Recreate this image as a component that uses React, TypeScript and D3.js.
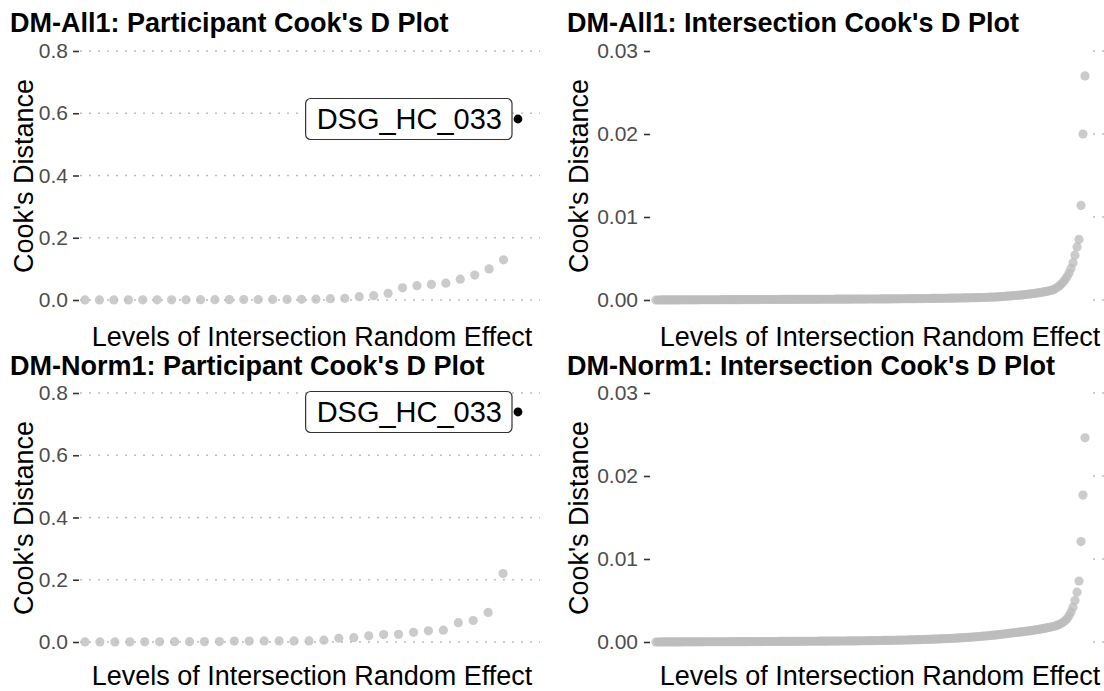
import * as d3 from 'd3';
import React, { useEffect, useRef } from 'react';

// Participant-level Cook's D, sorted ascending (last value = flagged participant)
const allParticipantCooks = [
  0.0001, 0.0002, 0.0003, 0.0004, 0.0005, 0.0006, 0.0007, 0.0008, 0.0009, 0.0011,
  0.0012, 0.0014, 0.0016, 0.0018, 0.0020, 0.0022, 0.0025, 0.0043, 0.0054, 0.0107,
  0.0140, 0.0214, 0.0390, 0.0460, 0.0500, 0.0540, 0.0670, 0.0800, 0.1000, 0.1290,
  0.5815,
];
const normParticipantCooks = [
  0.0001, 0.0002, 0.0003, 0.0004, 0.0005, 0.0006, 0.0010, 0.0011, 0.0012, 0.0013,
  0.0030, 0.0031, 0.0033, 0.0034, 0.0035, 0.0036, 0.0060, 0.0120, 0.0140, 0.0200,
  0.0240, 0.0245, 0.0310, 0.0360, 0.0380, 0.0620, 0.0690, 0.0950, 0.2200, 0.7390,
];
const flaggedParticipant = "DSG_HC_033";

// Intersection-level Cook's D, sorted ascending
const allIntersectionCooks = [
  0.00000, 0.00000, 0.00000, 0.00001, 0.00001, 0.00001, 0.00001, 0.00001, 0.00001, 0.00001,
  0.00001, 0.00001, 0.00002, 0.00002, 0.00002, 0.00002, 0.00002, 0.00002, 0.00002, 0.00002,
  0.00002, 0.00002, 0.00003, 0.00003, 0.00003, 0.00003, 0.00003, 0.00003, 0.00003, 0.00003,
  0.00003, 0.00003, 0.00003, 0.00004, 0.00004, 0.00004, 0.00004, 0.00004, 0.00004, 0.00004,
  0.00004, 0.00004, 0.00004, 0.00005, 0.00005, 0.00005, 0.00005, 0.00005, 0.00005, 0.00005,
  0.00005, 0.00005, 0.00005, 0.00006, 0.00006, 0.00006, 0.00006, 0.00006, 0.00006, 0.00006,
  0.00006, 0.00006, 0.00006, 0.00007, 0.00007, 0.00007, 0.00007, 0.00007, 0.00007, 0.00007,
  0.00007, 0.00007, 0.00007, 0.00008, 0.00008, 0.00008, 0.00008, 0.00008, 0.00008, 0.00008,
  0.00008, 0.00008, 0.00009, 0.00009, 0.00009, 0.00009, 0.00009, 0.00009, 0.00009, 0.00009,
  0.00010, 0.00010, 0.00010, 0.00010, 0.00010, 0.00010, 0.00010, 0.00010, 0.00011, 0.00011,
  0.00011, 0.00011, 0.00011, 0.00011, 0.00011, 0.00011, 0.00012, 0.00012, 0.00012, 0.00012,
  0.00012, 0.00012, 0.00012, 0.00013, 0.00013, 0.00013, 0.00013, 0.00013, 0.00014, 0.00014,
  0.00014, 0.00014, 0.00014, 0.00015, 0.00015, 0.00015, 0.00015, 0.00016, 0.00016, 0.00016,
  0.00016, 0.00017, 0.00017, 0.00017, 0.00017, 0.00018, 0.00018, 0.00018, 0.00019, 0.00019,
  0.00019, 0.00020, 0.00020, 0.00020, 0.00021, 0.00021, 0.00021, 0.00022, 0.00022, 0.00022,
  0.00023, 0.00023, 0.00024, 0.00024, 0.00025, 0.00025, 0.00026, 0.00026, 0.00027, 0.00027,
  0.00028, 0.00028, 0.00029, 0.00030, 0.00030, 0.00031, 0.00032, 0.00033, 0.00034, 0.00035,
  0.00036, 0.00037, 0.00039, 0.00040, 0.00042, 0.00044, 0.00046, 0.00048, 0.00050, 0.00052,
  0.00054, 0.00056, 0.00058, 0.00060, 0.00062, 0.00065, 0.00068, 0.00071, 0.00074, 0.00077,
  0.00080, 0.00084, 0.00088, 0.00092, 0.00096, 0.00100, 0.00105, 0.00110, 0.00116, 0.00122,
  0.00135, 0.00150, 0.00168, 0.00190, 0.00215, 0.00245, 0.00280, 0.00325, 0.00380, 0.00450,
  0.00540, 0.00640, 0.00730, 0.01140, 0.02000, 0.02700,
];
const normIntersectionCooks = [
  0.00000, 0.00000, 0.00000, 0.00001, 0.00001, 0.00001, 0.00001, 0.00001, 0.00001, 0.00001,
  0.00001, 0.00001, 0.00001, 0.00001, 0.00002, 0.00002, 0.00002, 0.00002, 0.00002, 0.00002,
  0.00002, 0.00002, 0.00002, 0.00002, 0.00003, 0.00003, 0.00003, 0.00003, 0.00003, 0.00003,
  0.00003, 0.00003, 0.00003, 0.00003, 0.00003, 0.00003, 0.00003, 0.00004, 0.00004, 0.00004,
  0.00004, 0.00004, 0.00004, 0.00004, 0.00004, 0.00004, 0.00005, 0.00005, 0.00005, 0.00005,
  0.00005, 0.00005, 0.00005, 0.00005, 0.00006, 0.00006, 0.00006, 0.00006, 0.00006, 0.00006,
  0.00006, 0.00006, 0.00007, 0.00007, 0.00007, 0.00007, 0.00007, 0.00007, 0.00007, 0.00008,
  0.00008, 0.00008, 0.00008, 0.00008, 0.00008, 0.00008, 0.00009, 0.00009, 0.00009, 0.00009,
  0.00009, 0.00009, 0.00010, 0.00010, 0.00010, 0.00010, 0.00010, 0.00011, 0.00011, 0.00011,
  0.00011, 0.00011, 0.00012, 0.00012, 0.00012, 0.00012, 0.00013, 0.00013, 0.00013, 0.00013,
  0.00014, 0.00014, 0.00014, 0.00015, 0.00015, 0.00015, 0.00016, 0.00016, 0.00016, 0.00017,
  0.00017, 0.00017, 0.00018, 0.00018, 0.00019, 0.00019, 0.00019, 0.00020, 0.00020, 0.00021,
  0.00021, 0.00022, 0.00022, 0.00023, 0.00023, 0.00024, 0.00024, 0.00025, 0.00026, 0.00026,
  0.00027, 0.00028, 0.00028, 0.00029, 0.00030, 0.00031, 0.00031, 0.00032, 0.00033, 0.00034,
  0.00035, 0.00036, 0.00037, 0.00038, 0.00039, 0.00040, 0.00041, 0.00042, 0.00043, 0.00045,
  0.00046, 0.00047, 0.00049, 0.00050, 0.00052, 0.00053, 0.00055, 0.00057, 0.00058, 0.00060,
  0.00062, 0.00064, 0.00066, 0.00068, 0.00070, 0.00072, 0.00074, 0.00077, 0.00079, 0.00082,
  0.00084, 0.00087, 0.00090, 0.00092, 0.00095, 0.00098, 0.00101, 0.00104, 0.00107, 0.00110,
  0.00113, 0.00116, 0.00119, 0.00122, 0.00125, 0.00128, 0.00131, 0.00134, 0.00138, 0.00141,
  0.00145, 0.00149, 0.00153, 0.00157, 0.00161, 0.00166, 0.00171, 0.00176, 0.00181, 0.00187,
  0.00193, 0.00201, 0.00210, 0.00222, 0.00237, 0.00255, 0.00280, 0.00315, 0.00360, 0.00420,
  0.00500, 0.00600, 0.00735, 0.01210, 0.01770, 0.02460,
];

const participantTicks = [0, 0.2, 0.4, 0.6, 0.8];
const intersectionTicks = [0, 0.01, 0.02, 0.03];
const panelTitles = [
  "DM-All1: Participant Cook's D Plot",
  "DM-All1: Intersection Cook's D Plot",
  "DM-Norm1: Participant Cook's D Plot",
  "DM-Norm1: Intersection Cook's D Plot",
];
const xAxisTitle = "Levels of Intersection Random Effect";
const yAxisTitle = "Cook's Distance";

const FONT = "'Liberation Sans', Arial, Helvetica, sans-serif";

// column layout (left = participant, right = intersection)
const columns = [
  { titleX: 10, yTitleX: 33, axisX: 79, pad: 5, xRange: [85, 518], gridX: [80, 540], xTitleX: 312 },
  { titleX: 567, yTitleX: 588, axisX: 650, pad: 6, xRange: [656, 1085], gridX: [1093, 1104], xTitleX: 880 },
];
const rows = [
  { zeroY: 300, topY: 51, titleY: 32, xTitleY: 346, yTitleY: 176 },
  { zeroY: 642, topY: 393, titleY: 375, xTitleY: 685, yTitleY: 518 },
];

const panels = [
  { title: panelTitles[0], values: allParticipantCooks, ticks: participantTicks, fmt: ".1f", col: 0, row: 0, flag: true },
  { title: panelTitles[1], values: allIntersectionCooks, ticks: intersectionTicks, fmt: ".2f", col: 1, row: 0, flag: false },
  { title: panelTitles[2], values: normParticipantCooks, ticks: participantTicks, fmt: ".1f", col: 0, row: 1, flag: true },
  { title: panelTitles[3], values: normIntersectionCooks, ticks: intersectionTicks, fmt: ".2f", col: 1, row: 1, flag: false },
];

const App: React.FC = () => {
  const ref = useRef<SVGSVGElement>(null);

  useEffect(() => {
    if (!ref.current) return;
    const svg = d3.select(ref.current);
    svg.selectAll("*").remove();

    panels.forEach(p => {
      const c = columns[p.col];
      const r = rows[p.row];
      const g = svg.append("g");

      const x = d3.scalePoint<number>()
        .domain(d3.range(p.values.length))
        .range(c.xRange as [number, number]);
      const y = d3.scaleLinear()
        .domain([0, p.ticks[p.ticks.length - 1]])
        .range([r.zeroY, r.topY]);

      // dotted horizontal grid
      g.append("g")
        .selectAll("line")
        .data(p.ticks)
        .enter().append("line")
        .attr("x1", c.gridX[0])
        .attr("x2", c.gridX[1])
        .attr("y1", d => y(d))
        .attr("y2", d => y(d))
        .attr("stroke", "#bdbdbd")
        .attr("stroke-width", 1.5)
        .attr("stroke-dasharray", "2,7");

      // y axis
      const axis = g.append("g")
        .attr("transform", `translate(${c.axisX},0)`)
        .call(d3.axisLeft(y).tickValues(p.ticks).tickSize(6).tickPadding(c.pad)
          .tickFormat(d3.format(p.fmt) as any));
      axis.select(".domain").remove();
      axis.selectAll(".tick line").attr("stroke", "#333").attr("stroke-width", 1.6);
      axis.selectAll(".tick text")
        .style("fill", "#4d4d4d")
        .style("font", `21px ${FONT}`);

      // points
      const n = p.values.length;
      const isFlag = (i: number) => p.flag && i === n - 1;
      g.append("g")
        .selectAll("circle")
        .data(p.values.map((v, i) => ({ v, i })))
        .enter().append("circle")
        .attr("cx", d => x(d.i) as number)
        .attr("cy", d => y(d.v))
        .attr("r", d => (isFlag(d.i) ? 4.4 : 4.6))
        .attr("fill", d => (isFlag(d.i) ? "#000" : "#bdbdbd"))
        .attr("fill-opacity", d => (isFlag(d.i) ? 1 : 0.78));

      // label for flagged participant
      if (p.flag) {
        const px = x(n - 1) as number;
        const py = y(p.values[n - 1]);
        const lab = g.append("g");
        const rect = lab.append("rect");
        const txt = lab.append("text")
          .attr("x", px - 16)
          .attr("y", py)
          .attr("dy", "0.36em")
          .attr("text-anchor", "end")
          .style("font", `29px ${FONT}`)
          .style("fill", "#000")
          .text(flaggedParticipant);
        const bb = (txt.node() as SVGTextElement).getBBox();
        rect.attr("x", bb.x - 11)
          .attr("y", py - 20.5)
          .attr("width", bb.width + 21)
          .attr("height", 41)
          .attr("rx", 5)
          .attr("fill", "#fff")
          .attr("stroke", "#333")
          .attr("stroke-width", 1.2);
      }

      // titles
      g.append("text")
        .attr("x", c.titleX)
        .attr("y", r.titleY)
        .style("font", `bold 27px ${FONT}`)
        .style("fill", "#000")
        .text(p.title);

      g.append("text")
        .attr("x", c.xTitleX)
        .attr("y", r.xTitleY)
        .attr("text-anchor", "middle")
        .style("font", `27px ${FONT}`)
        .style("fill", "#000")
        .text(xAxisTitle);

      g.append("text")
        .attr("transform", `translate(${c.yTitleX},${r.yTitleY}) rotate(-90)`)
        .attr("text-anchor", "middle")
        .style("font", `27px ${FONT}`)
        .style("fill", "#000")
        .text(yAxisTitle);
    });
  }, []);

  return (
    <div style={{ position: "absolute", left: 0, top: 0 }}>
      <svg ref={ref} width={1104} height={691} style={{ display: "block", background: "#fff" }}></svg>
    </div>
  );
};

export default App;
